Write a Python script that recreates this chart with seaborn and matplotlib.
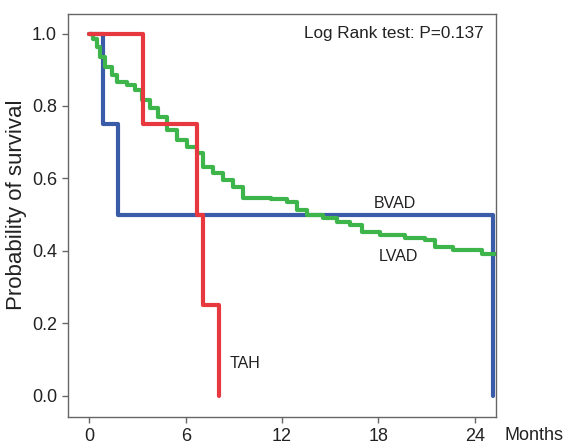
import pandas as pd
import numpy as np
import matplotlib
matplotlib.use('Agg')
import matplotlib.pyplot as plt
import seaborn as sns

# Kaplan-Meier 곡선 값
bvad_t = [0, 0.85, 1.8, 25.15]
bvad_s = [1.0, 0.75, 0.5, 0.0]

tah_t = [0, 3.33, 6.69, 7.06, 8.05]
tah_s = [1.0, 0.75, 0.5, 0.25, 0.0]

lvad_t = [0, 0.25, 0.46, 0.67, 0.98, 1.39, 1.71, 2.33, 2.85, 3.26, 3.78,
          4.30, 4.82, 5.44, 6.06, 6.69, 7.10, 7.72, 8.34, 8.97, 9.59, 11.3,
          12.29, 12.91, 13.54, 14.55, 15.42, 16.23, 16.98, 18.10, 19.66,
          20.90, 21.53, 22.65, 24.45, 25.33]
lvad_s = [1.0, 0.985, 0.963, 0.935, 0.908, 0.885, 0.866, 0.857, 0.844,
          0.816, 0.793, 0.770, 0.733, 0.706, 0.687, 0.669, 0.632, 0.614,
          0.595, 0.577, 0.545, 0.543, 0.535, 0.512, 0.499, 0.490, 0.479,
          0.471, 0.452, 0.443, 0.435, 0.429, 0.410, 0.402, 0.391, 0.391]

x_ticks = [0, 6, 12, 18, 24]
y_ticks = [0.0, 0.2, 0.4, 0.6, 0.8, 1.0]

df = pd.concat([
    pd.DataFrame({'Months': bvad_t, 'Survival': bvad_s, 'Group': 'BVAD'}),
    pd.DataFrame({'Months': lvad_t, 'Survival': lvad_s, 'Group': 'LVAD'}),
    pd.DataFrame({'Months': tah_t, 'Survival': tah_s, 'Group': 'TAH'}),
], ignore_index=True)

sns.set_style('ticks')
plt.rcParams['font.family'] = ['Liberation Sans', 'DejaVu Sans']

fig = plt.figure(figsize=(5.71, 4.43), dpi=100)
ax = fig.add_axes([0.119, 0.0594, 0.750, 0.9083])

palette = {'BVAD': '#3A5BA8', 'LVAD': '#3DB54A', 'TAH': '#E8383F'}
sns.lineplot(data=df, x='Months', y='Survival', hue='Group',
             hue_order=['BVAD', 'LVAD', 'TAH'], palette=palette,
             estimator=None, sort=False, drawstyle='steps-post',
             linewidth=3.0, legend=False, ax=ax)

ax.set_xlim(-1.33, 25.33)
ax.set_ylim(-0.058, 1.053)
ax.set_xticks(x_ticks)
ax.set_yticks(y_ticks)
ax.set_yticklabels([f'{v:.1f}' for v in y_ticks])
ax.tick_params(labelsize=13, length=4.3, width=1, pad=3.5,
               color='#666666', labelcolor='#222222')
for sp in ax.spines.values():
    sp.set_color('#666666')
    sp.set_linewidth(1)

ax.set_xlabel('')
ax.set_ylabel('Probability of survival', fontsize=16, color='#222222')
ax.yaxis.set_label_coords(-0.096, 0.526)

ax.annotate('Months', xy=(1.019, 0), xycoords='axes fraction',
            xytext=(0, -23), textcoords='offset pixels',
            fontsize=13, color='#222222', ha='left', va='baseline')
ax.text(0.970, 0.941, 'Log Rank test: P=0.137', transform=ax.transAxes,
        fontsize=12.3, color='#222222', ha='right', va='baseline')
ax.text(17.73, 0.518, 'BVAD', fontsize=11.5, color='#222222', va='baseline')
ax.text(18.04, 0.372, 'LVAD', fontsize=11.5, color='#222222', va='baseline')
ax.text(8.76, 0.076, 'TAH', fontsize=11.5, color='#222222', va='baseline')

fig.savefig('out.png', dpi=100)
